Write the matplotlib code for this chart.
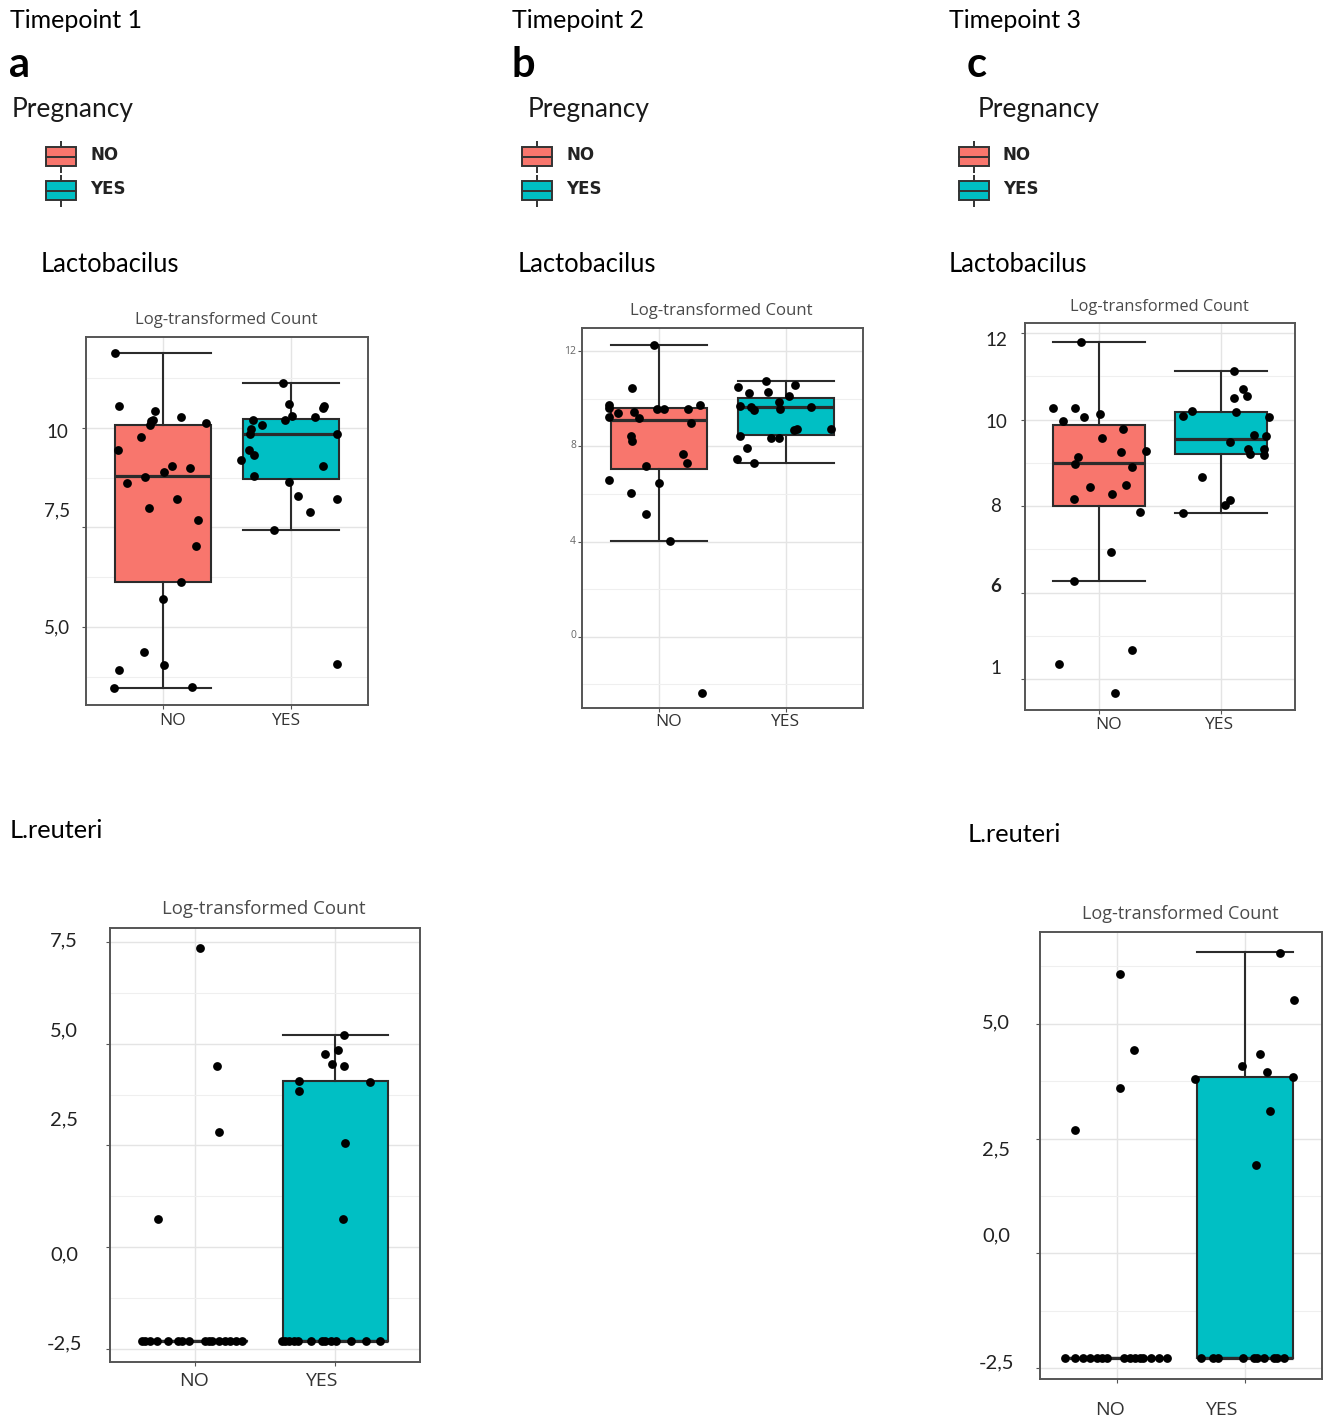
import matplotlib
matplotlib.use("Agg")
import matplotlib.pyplot as plt
from matplotlib.patches import Rectangle

# ---------------------------------------------------------------- data
groups = ["NO", "YES"]
group_colors = ["#F8766D", "#00BFC4"]

# box statistics: [lower whisker, Q1, median, Q3, upper whisker]
# Lactobacilus, timepoint 1
lacto_t1_no_box = [3.48, 6.13, 8.78, 10.08, 11.87]
lacto_t1_yes_box = [7.43, 8.72, 9.84, 10.22, 11.11]
lacto_t1_no = [11.87, 10.55, 10.43, 10.16, 10.19, 10.08, 10.26, 10.11, 9.76, 9.43,
               9.03, 8.90, 8.98, 8.76, 8.61, 8.22, 7.99, 7.69, 7.03, 6.13,
               5.70, 4.37, 3.93, 4.05, 3.48, 3.51]
lacto_t1_no_jit = [-0.37, -0.34, -0.06, -0.09, -0.08, -0.10, 0.14, 0.34, -0.17, -0.35,
                   0.07, 0.01, 0.21, -0.14, -0.28, 0.11, -0.11, 0.27, 0.26, 0.14,
                   0.00, -0.15, -0.34, 0.005, -0.38, 0.23]
lacto_t1_yes = [11.11, 10.59, 10.55, 10.49, 10.30, 10.20, 10.07, 10.20, 10.26, 9.96,
                9.84, 9.84, 9.43, 9.32, 9.20, 9.03, 8.80, 8.65, 8.30, 8.22,
                7.90, 7.43, 4.08]
lacto_t1_yes_jit = [-0.06, -0.02, 0.26, 0.25, 0.01, -0.30, -0.23, -0.05, 0.19, -0.31,
                    -0.32, 0.36, -0.33, -0.29, -0.39, 0.25, -0.29, -0.02, 0.05, 0.36,
                    0.15, -0.13, 0.36]

# Lactobacilus, timepoint 2
lacto_t2_no_box = [4.01, 7.03, 9.10, 9.63, 12.25]
lacto_t2_yes_box = [7.30, 8.49, 9.65, 10.03, 10.75]
lacto_t2_no = [12.25, 10.47, 9.73, 9.63, 9.23, 9.40, 9.44, 9.21, 9.58, 9.58,
               9.56, 9.73, 8.96, 8.42, 8.22, 7.66, 7.31, 7.17, 6.60, 6.46,
               6.05, 5.17, 4.01, -2.35]
lacto_t2_no_jit = [-0.04, -0.21, -0.39, -0.39, -0.39, -0.32, -0.19, -0.15, -0.01, 0.04,
                   0.23, 0.32, 0.25, -0.22, -0.21, 0.19, 0.22, -0.10, -0.39, 0.00,
                   -0.22, -0.10, 0.09, 0.34]
lacto_t2_yes = [10.75, 10.50, 10.29, 10.22, 10.57, 10.11, 9.68, 9.65, 9.52, 9.87,
                9.56, 9.65, 8.43, 8.35, 8.35, 8.67, 8.74, 8.72, 7.95, 7.45, 7.30]
lacto_t2_yes_jit = [-0.16, -0.38, -0.14, -0.29, 0.07, 0.02, -0.36, -0.28, -0.25, -0.06,
                    -0.05, 0.19, -0.36, -0.12, -0.06, 0.06, 0.08, 0.35, -0.31, -0.39, -0.25]

# Lactobacilus, timepoint 3
lacto_t3_no_box = [6.28, 8.00, 8.99, 9.88, 11.80]
lacto_t3_yes_box = [7.85, 9.21, 9.55, 10.18, 11.13]
lacto_t3_no = [11.80, 10.26, 10.26, 9.97, 10.05, 10.12, 9.78, 9.57, 9.26, 9.27,
               9.14, 8.97, 8.91, 8.45, 8.49, 8.27, 8.17, 7.86, 6.95, 6.28,
               4.36, 4.68, 3.69]
lacto_t3_no_jit = [-0.14, -0.37, -0.19, -0.29, -0.12, 0.01, 0.20, 0.03, 0.18, 0.39,
                   -0.17, -0.19, 0.27, -0.07, 0.22, 0.11, -0.20, 0.34, 0.10, -0.20,
                   -0.32, 0.27, 0.13]
lacto_t3_yes = [11.13, 10.71, 10.55, 10.49, 10.18, 10.09, 10.20, 10.05, 9.64, 9.61,
                9.47, 9.31, 9.20, 9.31, 9.17, 8.68, 8.13, 8.03, 7.85]
lacto_t3_yes_jit = [0.10, 0.18, 0.21, 0.10, 0.12, -0.31, -0.24, 0.39, 0.27, 0.36,
                    0.07, 0.22, 0.23, 0.35, 0.35, -0.16, 0.07, 0.03, -0.31]

# L. reuteri, timepoint 1
reut_t1_no_box = [-2.30, -2.30, -2.30, -2.30, -2.30]
reut_t1_yes_box = [-2.30, -2.30, -2.30, 4.09, 5.22]
reut_t1_no = [7.35, 4.46, 2.84, 0.69,
              -2.30, -2.30, -2.30, -2.30, -2.30, -2.30, -2.30, -2.30,
              -2.30, -2.30, -2.30, -2.30, -2.30, -2.30, -2.30, -2.30]
reut_t1_no_jit = [0.04, 0.16, 0.17, -0.26,
                  -0.375, -0.352, -0.316, -0.264, -0.185, -0.114, -0.09, -0.036,
                  0.076, 0.10, 0.124, 0.171, 0.219, 0.255, 0.297, 0.338]
reut_t1_yes = [5.22, 4.85, 4.75, 4.49, 4.44, 4.09, 4.05, 3.83, 2.57, 0.69,
               -2.30, -2.30, -2.30, -2.30, -2.30, -2.30, -2.30,
               -2.30, -2.30, -2.30, -2.30, -2.30, -2.30]
reut_t1_yes_jit = [0.063, 0.02, -0.075, -0.027, 0.063, -0.258, 0.248, -0.262, 0.068, 0.051,
                   -0.382, -0.358, -0.328, -0.292, -0.268, -0.173, -0.095,
                   -0.073, -0.03, 0.005, 0.112, 0.219, 0.314]

# L. reuteri, timepoint 3
reut_t3_no_box = [-2.28, -2.28, -2.28, -2.28, -2.28]
reut_t3_yes_box = [-2.28, -2.28, -2.28, 3.83, 6.56]
reut_t3_no = [6.09, 4.43, 3.60, 2.69,
              -2.28, -2.28, -2.28, -2.28, -2.28, -2.28, -2.28, -2.28,
              -2.28, -2.28, -2.28, -2.28, -2.28, -2.28, -2.28]
reut_t3_no_jit = [0.026, 0.131, 0.021, -0.329,
                  -0.408, -0.329, -0.268, -0.211, -0.158, -0.118, -0.079, 0.052,
                  0.105, 0.144, 0.184, 0.205, 0.263, 0.329, 0.389]
reut_t3_yes = [6.54, 5.51, 4.35, 4.08, 3.96, 3.80, 3.83, 3.11, 1.93,
               -2.28, -2.28, -2.28, -2.28, -2.28, -2.28, -2.28, -2.28, -2.28, -2.28]
reut_t3_yes_jit = [0.276, 0.382, 0.118, -0.026, 0.171, -0.387, 0.376, 0.197, 0.084,
                   -0.342, -0.25, -0.21, -0.013, 0.066, 0.092, 0.145, 0.224, 0.25, 0.303]

# y tick label text per panel
ylab_a = ["10", "7,5", "5,0"]
ylab_b = ["12", "8", "4", "0"]
ylab_c = ["12", "10", "8", "6", "1"]
ylab_d = ["7,5", "5,0", "2,5", "0,0", "-2,5"]
ylab_e = ["5,0", "2,5", "0,0", "-2,5"]

# ---------------------------------------------------------------- figure
W, H = 1324, 1421
fig = plt.figure(figsize=(W / 100, H / 100), dpi=100)
fig.patch.set_facecolor("white")

# full-figure overlay in pixel units for headings and legend keys
bg = fig.add_axes([0, 0, 1, 1])
bg.set_xlim(0, W)
bg.set_ylim(H, 0)
bg.axis("off")

SANS = ["Lato", "DejaVu Sans"]
PLOT_FONT = ["Open Sans", "DejaVu Sans"]


def stats(b):
    return {"whislo": b[0], "q1": b[1], "med": b[2], "q3": b[3], "whishi": b[4],
            "fliers": []}


def panel(rect, ylim, boxes, points, major, minor):
    x0, y0, x1, y1 = rect
    ax = fig.add_axes([x0 / W, 1 - y1 / H, (x1 - x0) / W, (y1 - y0) / H])
    ax.set_xlim(-0.6, 1.6)
    ax.set_ylim(*ylim)
    ax.set_xticks([0, 1])
    ax.set_yticks(major)
    ax.set_yticks(minor, minor=True)
    ax.grid(which="major", color="#e4e4e4", lw=1.0)
    ax.grid(which="minor", axis="y", color="#efefef", lw=0.8)
    ax.set_axisbelow(True)
    ax.tick_params(which="major", length=3, color="#555555", width=0.8,
                   labelleft=False, labelbottom=False)
    ax.tick_params(which="minor", length=0)
    for s in ax.spines.values():
        s.set_color("#555555")
        s.set_linewidth(1.4)
    lc = "#2b2b2b"
    bp = ax.bxp([stats(b) for b in boxes], positions=[0, 1], widths=0.75,
                capwidths=0.75, patch_artist=True, showfliers=False,
                manage_ticks=False,
                boxprops=dict(edgecolor=lc, linewidth=1.5),
                medianprops=dict(color=lc, linewidth=2.3),
                whiskerprops=dict(color=lc, linewidth=1.5),
                capprops=dict(color=lc, linewidth=1.5))
    for patch, col in zip(bp["boxes"], group_colors):
        patch.set_facecolor(col)
    for i, (vals, jit) in enumerate(points):
        ax.scatter([i + j for j in jit], vals, s=40, color="black", zorder=5,
                   linewidths=0)
    return ax


# top row: Lactobacilus
panel((86, 337, 368, 705), (3.05, 12.275),
      [lacto_t1_no_box, lacto_t1_yes_box],
      [(lacto_t1_no, lacto_t1_no_jit), (lacto_t1_yes, lacto_t1_yes_jit)],
      [5, 7.5, 10], [3.75, 6.25, 8.75, 11.25])
panel((582, 328, 863, 708), (-2.99, 12.97),
      [lacto_t2_no_box, lacto_t2_yes_box],
      [(lacto_t2_no, lacto_t2_no_jit), (lacto_t2_yes, lacto_t2_yes_jit)],
      [0, 4, 8, 12], [-2, 2, 6, 10])
panel((1025, 323, 1295, 710), (3.29, 12.23),
      [lacto_t3_no_box, lacto_t3_yes_box],
      [(lacto_t3_no, lacto_t3_no_jit), (lacto_t3_yes, lacto_t3_yes_jit)],
      [4, 6, 8, 10, 12], [5, 7, 9, 11])
# bottom row: L. reuteri
panel((110, 928, 420, 1362), (-2.82, 7.84),
      [reut_t1_no_box, reut_t1_yes_box],
      [(reut_t1_no, reut_t1_no_jit), (reut_t1_yes, reut_t1_yes_jit)],
      [-2.5, 0, 2.5, 5, 7.5], [-1.25, 1.25, 3.75, 6.25])
panel((1040, 932, 1322, 1379), (-2.74, 7.0),
      [reut_t3_no_box, reut_t3_yes_box],
      [(reut_t3_no, reut_t3_no_jit), (reut_t3_yes, reut_t3_yes_jit)],
      [-2.5, 0, 2.5, 5], [-1.25, 1.25, 3.75, 6.25])

# ---------------------------------------------------------------- text
def t(x, y, s, size, ha="left", weight="normal", color="black", family=SANS):
    bg.text(x, y, s, fontsize=size, ha=ha, va="center", weight=weight,
            color=color, family=family)


for x, lab in [(10, "Timepoint 1"), (512, "Timepoint 2"), (949, "Timepoint 3")]:
    t(x, 21, lab, 18)
for x, lab in [(9, "a"), (511, "b"), (967, "c")]:
    t(x, 65, lab, 30, weight="bold")
for x in (12, 528, 978):
    t(x, 110, "Pregnancy", 19, color="#1a1a1a")

# legend keys
for kx in (46, 522, 959):
    for (cy, col, lab) in [(156.5, group_colors[0], groups[0]),
                           (190.5, group_colors[1], groups[1])]:
        bg.plot([kx + 15, kx + 15], [cy - 16, cy + 16], color="#333333", lw=1.4,
                solid_capstyle="butt")
        bg.add_patch(Rectangle((kx, cy - 9.5), 30, 19, facecolor=col,
                               edgecolor="#333333", lw=1.4, zorder=3))
        bg.plot([kx, kx + 30], [cy, cy], color="#333333", lw=1.4, zorder=4)
        t(kx + 44, cy - 1, lab, 12, weight="bold", color="#222222",
          family=["DejaVu Sans"])

for x, y in [(41, 265), (518, 265), (949, 265)]:
    t(x, y, "Lactobacilus", 18.4)
for x, y in [(10, 830), (968, 835)]:
    t(x, y, "L.reuteri", 18.3)

# panel titles
for x, y, sz in [(226, 320, 12.1), (721, 311, 12.1), (1159, 307, 11.8),
                 (264, 909, 13.4), (1180, 914, 13)]:
    t(x, y, "Log-transformed Count", sz, ha="center", color="#4a4a4a",
      family=PLOT_FONT)

# category labels under each panel
for (xn, xy_, y, sz) in [(173, 286, 721, 12.5), (669, 785, 722, 12.5),
                         (1109, 1219, 725, 12.5), (194, 321, 1381, 14),
                         (1110, 1221, 1410, 14)]:
    t(xn, y, groups[0], sz, ha="center", color="#333333", family=PLOT_FONT)
    t(xy_, y, groups[1], sz, ha="center", color="#333333", family=PLOT_FONT)

# value labels beside the panels
for lab, y in zip(ylab_a, [432, 511, 628]):
    t(57, y, lab, 13.5, ha="center", color="#222222")
for lab, y in zip(ylab_b, [351, 446, 541, 636]):
    t(576, y, lab, 7.5, ha="right", color="#666666", family=PLOT_FONT)
for lab, y in zip(ylab_c, [341, 423, 506, 587, 669]):
    t(996, y, lab, 13.5, ha="center", color="#222222",
      weight="bold" if lab == "6" else "normal")
for lab, y in zip(ylab_d, [941, 1031, 1120, 1255, 1344]):
    t(64, y, lab, 14.5, ha="center", color="#222222")
for lab, y in zip(ylab_e, [1023, 1150, 1236, 1363]):
    t(996, y, lab, 14.5, ha="center", color="#222222")

fig.savefig("out.png", dpi=100)
